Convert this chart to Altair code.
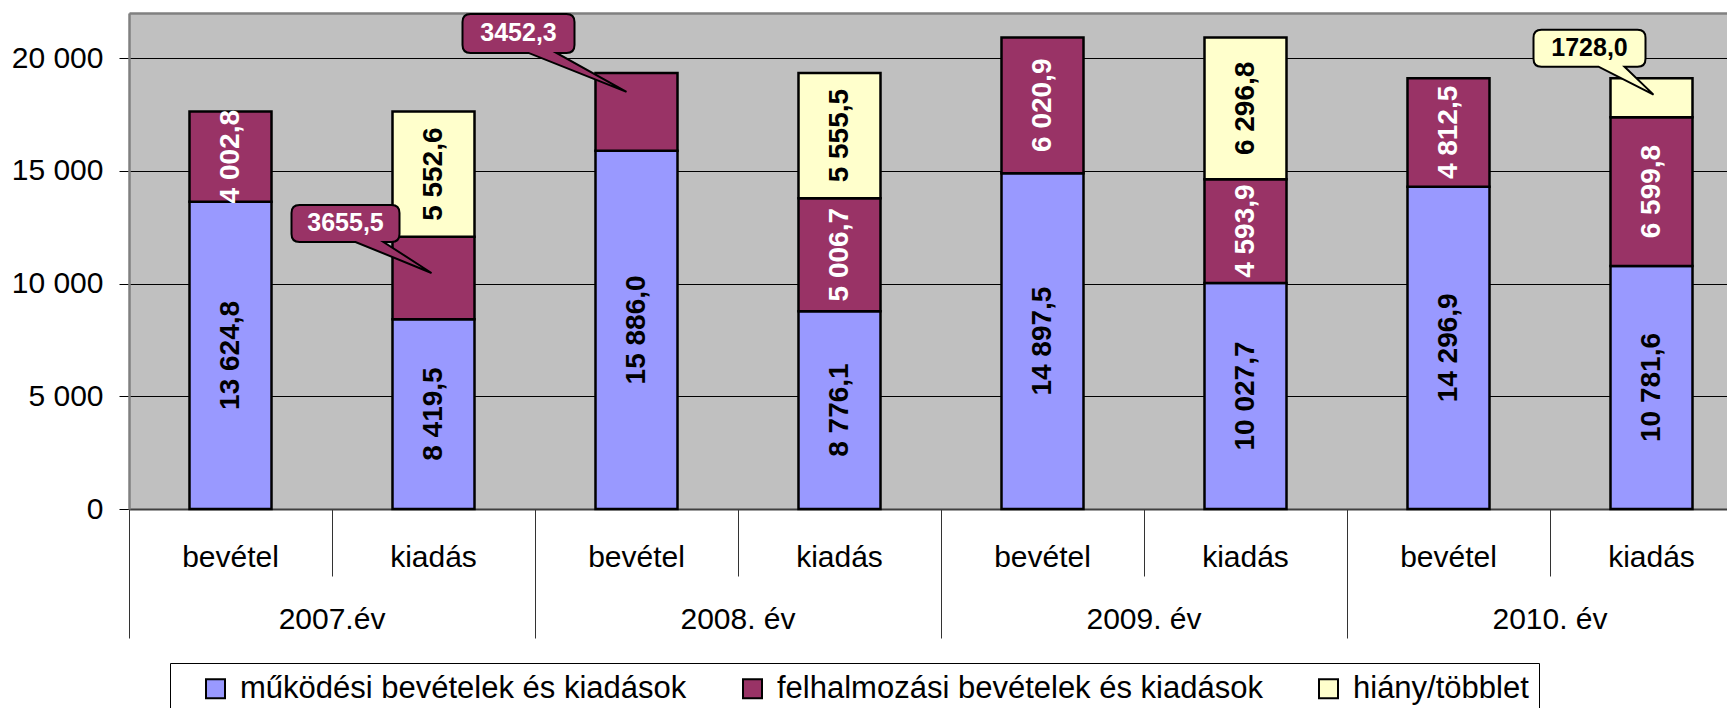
import altair as alt
import pandas as pd

FONT = "Liberation Sans"

# ---------------- data ----------------
years = ["2007.év", "2008. év", "2009. év", "2010. év"]
sides = ["bevétel", "kiadás"]
series_names = [
    "működési bevételek és kiadások",
    "felhalmozási bevételek és kiadások",
    "hiány/többlet",
]
series_colors = ["#9999FF", "#993366", "#FFFFCC"]

mukodesi_bevetel = [13624.8, 15886.0, 14897.5, 14296.9]
felhalmozasi_bevetel = [4002.8, 3452.3, 6020.9, 4812.5]
mukodesi_kiadas = [8419.5, 8776.1, 10027.7, 10781.6]
felhalmozasi_kiadas = [3655.5, 5006.7, 4593.9, 6599.8]
hiany_tobblet = [5552.6, 5555.5, 6296.8, 1728.0]

y_ticks = [0, 5000, 10000, 15000, 20000]
y_max = 22000

# segments whose value is shown in a callout box instead of inside the bar
callout_segments = [("2007.év", "kiadás", 1), ("2008. év", "bevétel", 1), ("2010. év", "kiadás", 2)]


def fmt_space(v):
    return f"{v:,.1f}".replace(",", " ").replace(".", ",")


def fmt_plain(v):
    return f"{v:.1f}".replace(".", ",")


rows = []
for i, yr in enumerate(years):
    groups = [
        ("bevétel", [mukodesi_bevetel[i], felhalmozasi_bevetel[i]]),
        ("kiadás", [mukodesi_kiadas[i], felhalmozasi_kiadas[i], hiany_tobblet[i]]),
    ]
    for side, vals in groups:
        for j, v in enumerate(vals):
            rows.append(
                dict(
                    key=f"{yr}|{side}",
                    year=yr,
                    side=side,
                    series=series_names[j],
                    order=j,
                    value=v,
                    label=fmt_space(v),
                    short=fmt_plain(v),
                    callout=(yr, side, j) in callout_segments,
                )
            )
df = pd.DataFrame(rows)
keys = [f"{yr}|{s}" for yr in years for s in sides]
bev_keys = [k for k in keys if k.endswith("bevétel")]
kia_keys = [k for k in keys if k.endswith("kiadás")]

PLOT_W = 1598          # visible plot area (the original is cut off at the right)
PLOT_H = 496
BAND = 203             # width of one category band in the original
X_RANGE = BAND * len(keys)

# ---------------- scales / axes ----------------
x_scale = alt.Scale(domain=keys, paddingInner=0, paddingOuter=0, range=[0, X_RANGE])
y_scale = alt.Scale(domain=[0, y_max], nice=False, zero=True)

y_axis = alt.Axis(
    title=None,
    values=y_ticks,
    labelExpr="datum.value >= 1000 ? floor(datum.value / 1000) + ' 000' : '' + datum.value",
    labelFont=FONT,
    labelFontSize=30,
    labelColor="black",
    labelPadding=16,
    tickSize=10,
    tickColor="black",
    tickWidth=1,
    domainColor="#808080",
    domainWidth=2.5,
    grid=True,
    gridColor="black",
    gridWidth=1,
)

axis_types = alt.Axis(
    title=None,
    orient="bottom",
    labelExpr="split(datum.value, '|')[1]",
    labelFont=FONT,
    labelFontSize=30,
    labelColor="black",
    labelAngle=0,
    labelBaseline="middle",
    labelPadding=48,
    labelOverlap=False,
    ticks=False,
    tickSize=0,
    domain=True,
    domainColor="#404040",
    domainWidth=2,
    grid=False,
)

axis_year_sep = alt.Axis(
    title=None,
    orient="bottom",
    values=bev_keys,
    bandPosition=0,
    labels=False,
    ticks=True,
    tickSize=129,
    tickColor="#333333",
    tickWidth=1,
    domain=False,
    grid=False,
)

axis_years = alt.Axis(
    title=None,
    orient="bottom",
    values=kia_keys,
    bandPosition=0,
    labelExpr="split(datum.value, '|')[0]",
    labelFont=FONT,
    labelFontSize=30,
    labelColor="black",
    labelAngle=0,
    labelBaseline="middle",
    labelPadding=43,
    labelOffset=-BAND / 2,
    labelOverlap=False,
    ticks=True,
    tickSize=67,
    tickColor="#333333",
    tickWidth=1,
    domain=False,
    grid=False,
)

axis_top = alt.Axis(
    title=None,
    orient="top",
    labels=False,
    ticks=False,
    domain=True,
    domainColor="#808080",
    domainWidth=2.5,
    grid=False,
)

legend = alt.Legend(
    orient="none",
    legendX=41,
    legendY=650,
    direction="horizontal",
    columns=3,
    title=" ",
    titleOrient="left",
    titleFontSize=1,
    titlePadding=20,
    symbolType="square",
    symbolSize=361,
    symbolStrokeColor="black",
    symbolStrokeWidth=2,
    symbolOpacity=1,
    labelFont=FONT,
    labelFontSize=31,
    labelColor="black",
    labelOffset=9,
    labelLimit=1000,
    columnPadding=50,
    padding=10,
    strokeColor="black",
    fillColor="white",
)

# ---------------- layers ----------------
base = alt.Chart(df).transform_stack(
    stack="value",
    groupby=["key"],
    sort=[alt.SortField("order", "ascending")],
    as_=["y0", "y1"],
).transform_calculate(mid="(datum.y0 + datum.y1) / 2")

sep_layer = alt.Chart(df).mark_bar(opacity=0).encode(
    x=alt.X("key:N", scale=x_scale, axis=axis_year_sep)
)
year_layer = alt.Chart(df).mark_bar(opacity=0).encode(
    x=alt.X("key:N", scale=x_scale, axis=axis_years)
)
top_layer = alt.Chart(df).mark_bar(opacity=0).encode(
    x=alt.X("key:N", scale=x_scale, axis=axis_top)
)

bars = base.mark_bar(
    width=alt.RelativeBandSize(0.404), stroke="black", strokeWidth=2.5, opacity=1
).encode(
    x=alt.X("key:N", scale=x_scale, axis=axis_types),
    y=alt.Y("y0:Q", scale=y_scale, axis=y_axis),
    y2="y1:Q",
    color=alt.Color(
        "series:N",
        scale=alt.Scale(domain=series_names, range=series_colors),
        legend=legend,
    ),
)

texts = base.transform_filter("!datum.callout").mark_text(
    angle=270, font=FONT, fontSize=28, fontWeight="bold", align="center", baseline="middle"
).encode(
    x=alt.X("key:N", scale=x_scale, axis=None),
    y=alt.Y("mid:Q", scale=y_scale, axis=y_axis),
    text="label:N",
    color=alt.condition("datum.order == 1", alt.value("white"), alt.value("black")),
)


def callout_path(x0, y0, x1, y1, b0, b1, tx, ty, r=8):
    return (
        f"M{x0 + r},{y0}L{x1 - r},{y0}Q{x1},{y0},{x1},{y0 + r}"
        f"L{x1},{y1 - r}Q{x1},{y1},{x1 - r},{y1}"
        f"L{b1},{y1}L{tx},{ty}L{b0},{y1}"
        f"L{x0 + r},{y1}Q{x0},{y1},{x0},{y1 - r}"
        f"L{x0},{y0 + r}Q{x0},{y0},{x0 + r},{y0}Z"
    )


# callout box styling (pixel geometry relative to the segment's centre)
callout_styles = [
    dict(geom=(-142, -73, -34, -36, -78, -50, -2, -5), dx=-88, dy=-55, fill="#993366", ink="white"),
    dict(geom=(-174, -98, -62, -59, -108, -80, -10, -20), dx=-118, dy=-79, fill="#993366", ink="white"),
    dict(geom=(-118, -68, -6, -31, -53, -27, 2, -3), dx=-62, dy=-50, fill="#FFFFCC", ink="black"),
]

callout_layers = []
for (yr, side, j), st in zip(callout_segments, callout_styles):
    sel = base.transform_filter(f"datum.key == '{yr}|{side}' && datum.order == {j}")
    box = sel.mark_point(
        shape=callout_path(*st["geom"]),
        size=4,
        filled=True,
        fill=st["fill"],
        stroke="black",
        strokeWidth=2,
        opacity=1,
    ).encode(
        x=alt.X("key:N", scale=x_scale, axis=None),
        y=alt.Y("mid:Q", scale=y_scale, axis=y_axis),
    )
    txt = sel.mark_text(
        dx=st["dx"], dy=st["dy"], font=FONT, fontSize=25, fontWeight="bold",
        align="center", baseline="middle", color=st["ink"],
    ).encode(
        x=alt.X("key:N", scale=x_scale, axis=None),
        y=alt.Y("mid:Q", scale=y_scale, axis=y_axis),
        text="short:N",
    )
    callout_layers += [box, txt]

chart = (
    alt.layer(sep_layer, year_layer, top_layer, bars, texts, *callout_layers)
    .resolve_axis(x="independent")
    .properties(
        width=PLOT_W,
        height=PLOT_H,
        padding={"left": 121, "top": 5, "right": 0, "bottom": 199},
        autosize=alt.AutoSizeParams(type="none"),
        background="white",
    )
    .configure_view(fill="#C0C0C0", stroke=None)
)

chart.save("out.html", embed_options={"renderer": "svg", "actions": False})
